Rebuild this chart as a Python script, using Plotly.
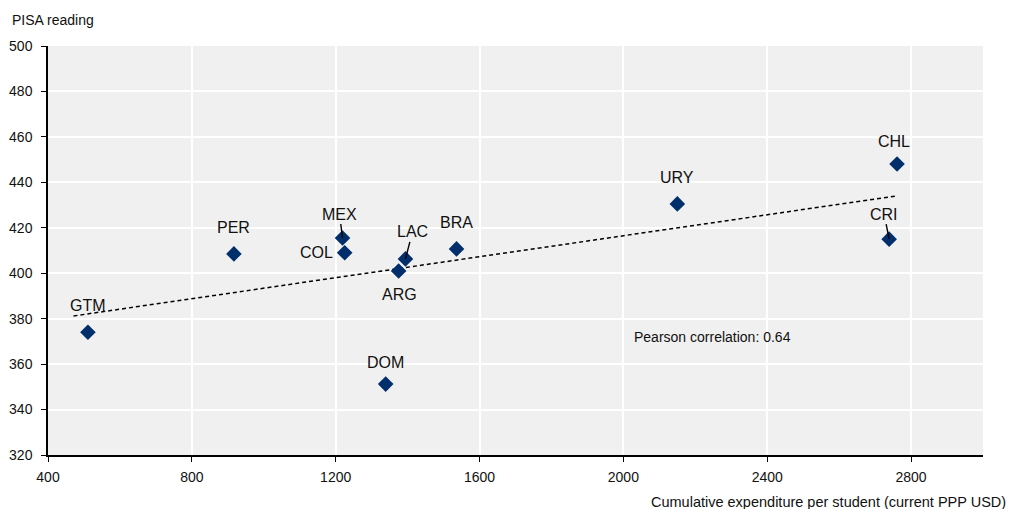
import numpy as np
import plotly.graph_objects as go

countries = ["GTM", "PER", "MEX", "COL", "LAC", "ARG", "BRA", "DOM", "URY", "CHL", "CRI"]
expenditure = [511, 917, 1219, 1225, 1394, 1375, 1536, 1339, 2150, 2761, 2739]
pisa_reading = [374, 408.5, 415.5, 409, 406.3, 401, 410.7, 351.2, 430.5, 448.1, 415]

x_ticks = [400, 800, 1200, 1600, 2000, 2400, 2800]
y_ticks = [320, 340, 360, 380, 400, 420, 440, 460, 480, 500]

# label offsets (pixels) : (dx, dy, arrow)
label_pos = {
    "GTM": (0, 27, False), "PER": (0, 26, False), "MEX": (-3, -24, True),
    "COL": (-28, 0, False), "LAC": (7, -27, True), "ARG": (1, -24, False),
    "BRA": (0, 26, False), "DOM": (0, 22, False), "URY": (0, 26, False),
    "CHL": (-3, 22, False), "CRI": (-5, -25, True),
}

FONT = "Liberation Sans, Arial, sans-serif"
NAVY = "#002F6C"
TXT = "#111111"

xa = np.array(expenditure, dtype=float)
ya = np.array(pisa_reading, dtype=float)
slope, intercept = np.polyfit(xa, ya, 1)
x_fit = np.array([xa.min() - 40, xa.max()])
y_fit = slope * x_fit + intercept

fig = go.Figure()
fig.add_trace(go.Scatter(x=x_fit, y=y_fit, mode="lines",
                         line=dict(color="black", width=1.5, dash="4px,3px"),
                         hoverinfo="skip", showlegend=False))
fig.add_trace(go.Scatter(x=expenditure, y=pisa_reading, mode="markers",
                         marker=dict(symbol="diamond", size=12, color=NAVY),
                         text=countries, showlegend=False))

for c, xv, yv in zip(countries, expenditure, pisa_reading):
    dx, dy, arrow = label_pos[c]
    if arrow:
        fig.add_annotation(x=xv, y=yv, text=c, showarrow=True, arrowhead=0,
                           arrowwidth=1.4, arrowcolor="black", ax=dx, ay=dy,
                           standoff=0, font=dict(size=16, color=TXT, family=FONT))
    else:
        fig.add_annotation(x=xv, y=yv, text=c, showarrow=False, xshift=dx, yshift=dy,
                           font=dict(size=16, color=TXT, family=FONT))

fig.add_annotation(x=2025, y=372, text="Pearson correlation: 0.64", showarrow=False,
                   xanchor="left", font=dict(size=14, color=TXT, family=FONT))
fig.add_annotation(xref="paper", yref="paper", x=-0.041, y=1.04, xanchor="left",
                   yanchor="bottom", text="PISA reading", showarrow=False,
                   font=dict(size=14, color=TXT, family=FONT))
fig.add_annotation(xref="paper", yref="paper", x=1.027, y=-0.09, xanchor="right",
                   yanchor="top", text="Cumulative expenditure per student (current PPP USD)",
                   showarrow=False, font=dict(size=14.5, color=TXT, family=FONT))

fig.update_xaxes(range=[400, 3000], tickvals=x_ticks, showgrid=True, gridcolor="white",
                 gridwidth=1.5, showline=True, linecolor="black", linewidth=1.5,
                 ticks="outside", ticklen=5, tickcolor="black", zeroline=False,
                 ticklabelstandoff=3, automargin=False,
                 tickfont=dict(size=14, color=TXT, family=FONT))
fig.update_yaxes(range=[320, 500], tickvals=y_ticks, showgrid=True, gridcolor="white",
                 gridwidth=1.5, showline=True, linecolor="black", linewidth=1.5,
                 ticks="outside", ticklen=5, tickcolor="black", zeroline=False,
                 ticklabelstandoff=6, automargin=False,
                 tickfont=dict(size=14, color=TXT, family=FONT))

fig.update_layout(width=1009, height=509, margin=dict(l=48, r=26, t=46, b=54),
                  plot_bgcolor="#F0F0F0", paper_bgcolor="white",
                  font=dict(family=FONT))

fig.write_html("out.html", config={"displayModeBar": False},
               post_script="document.body.style.margin='0';document.body.style.overflow='hidden';")
